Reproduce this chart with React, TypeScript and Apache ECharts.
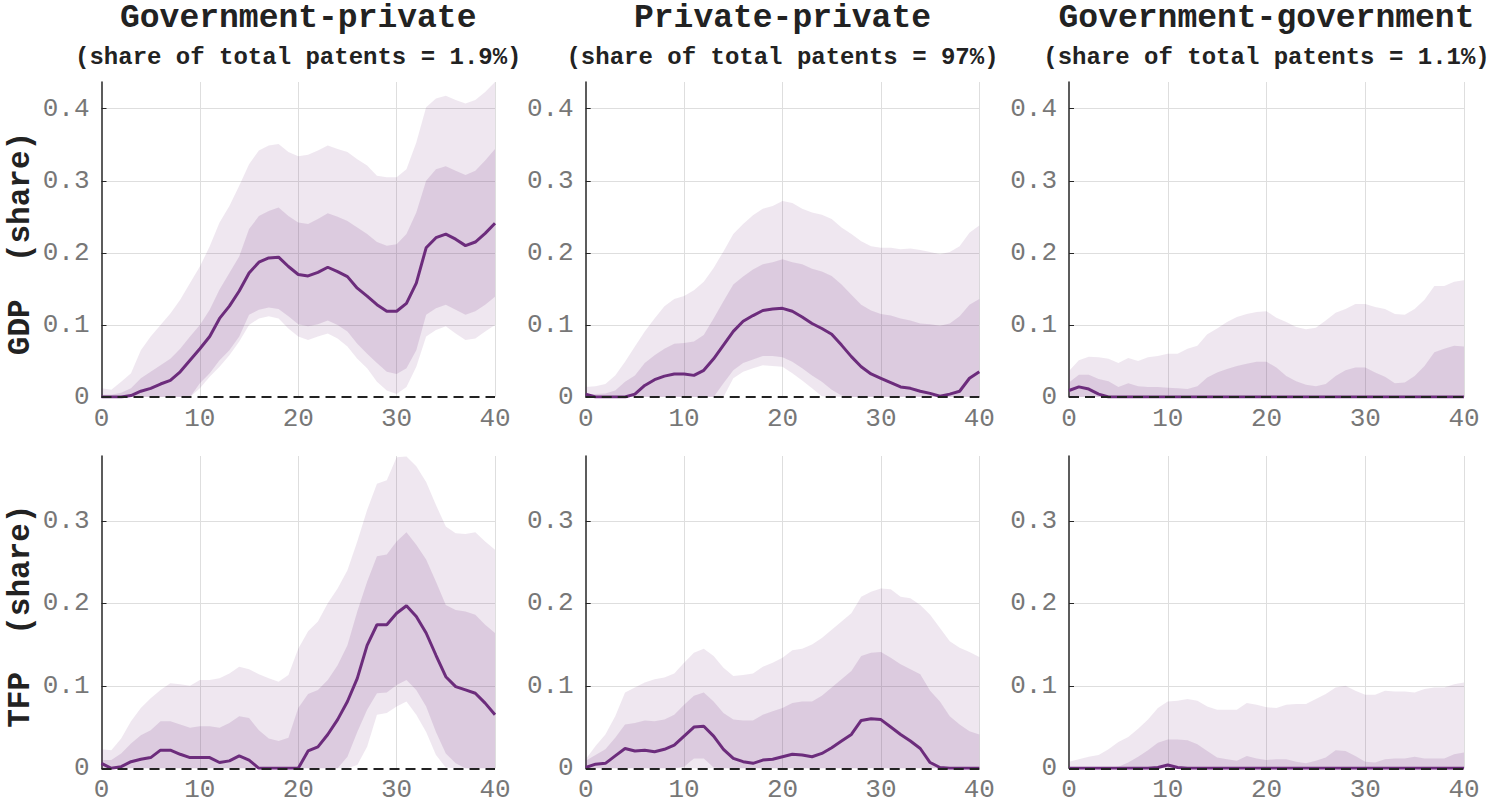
import React, { useEffect, useRef } from "react";
import * as echarts from "echarts";

// horizon (0..40)
const horizons = Array.from({ length: 41 }, (_, i) => String(i));

const colTitles = ["Government-private", "Private-private", "Government-government"];
const colSubtitles = [
  "(share of total patents = 1.9%)",
  "(share of total patents = 97%)",
  "(share of total patents = 1.1%)",
];
const rowLabels = ["GDP  (share)", "TFP  (share)"];
const yTickStep = 0.1;
const xTickEvery = 10;

// ---- GDP, Government-private
const gpGdpMed = [0,0,0,0.002,0.008,0.012,0.018,0.023,0.035,0.051,0.067,0.084,0.109,0.126,0.147,0.172,0.187,0.193,0.194,0.181,0.170,0.168,0.173,0.180,0.174,0.167,0.151,0.140,0.128,0.119,0.119,0.130,0.158,0.207,0.221,0.226,0.219,0.210,0.215,0.227,0.241];
const gpGdpInHi = [0.003,0.003,0.006,0.012,0.026,0.035,0.044,0.053,0.067,0.084,0.100,0.121,0.149,0.172,0.195,0.233,0.251,0.258,0.263,0.251,0.242,0.240,0.247,0.255,0.250,0.244,0.235,0.226,0.215,0.210,0.212,0.226,0.256,0.300,0.316,0.320,0.314,0.308,0.314,0.328,0.344];
const gpGdpInLo = [0,0,0,0,0,0,0,0,0,0,0.019,0.033,0.051,0.065,0.084,0.114,0.121,0.124,0.122,0.112,0.101,0.098,0.101,0.106,0.100,0.091,0.074,0.060,0.047,0.035,0.032,0.040,0.065,0.114,0.123,0.128,0.121,0.114,0.119,0.128,0.139];
const gpGdpOutHi = [0.012,0.010,0.021,0.033,0.065,0.084,0.100,0.116,0.135,0.158,0.181,0.209,0.242,0.265,0.293,0.323,0.342,0.349,0.351,0.340,0.334,0.336,0.342,0.349,0.344,0.340,0.330,0.321,0.307,0.305,0.305,0.316,0.353,0.402,0.414,0.418,0.412,0.407,0.412,0.423,0.437];
const gpGdpOutLo = [0,0,0,0,0,0,0,0,0,0,0.012,0.028,0.042,0.058,0.077,0.100,0.109,0.112,0.109,0.095,0.084,0.079,0.084,0.088,0.081,0.070,0.053,0.040,0.021,0.009,0.004,0.014,0.042,0.084,0.093,0.098,0.088,0.079,0.081,0.091,0.100];

// ---- GDP, Private-private
const ppGdpMed = [0.004,0,0,0,0,0.004,0.016,0.024,0.029,0.032,0.032,0.030,0.037,0.053,0.072,0.091,0.105,0.113,0.120,0.122,0.123,0.119,0.111,0.102,0.095,0.087,0.072,0.056,0.042,0.032,0.026,0.020,0.014,0.012,0.008,0.005,0.001,0.004,0.008,0.026,0.035];
const ppGdpInHi = [0.004,0.004,0.005,0.009,0.021,0.030,0.047,0.058,0.067,0.074,0.075,0.077,0.086,0.109,0.133,0.156,0.167,0.177,0.184,0.187,0.191,0.187,0.184,0.178,0.174,0.168,0.156,0.142,0.128,0.120,0.115,0.113,0.109,0.106,0.102,0.101,0.099,0.102,0.112,0.128,0.136];
const ppGdpInLo = [0,0,0,0,0,0,0,0,0,0,0,0,0,0,0.019,0.037,0.047,0.052,0.057,0.057,0.055,0.049,0.040,0.030,0.021,0.010,0.002,0,0,0,0,0,0,0,0,0,0,0,0,0,0];
const ppGdpOutHi = [0.014,0.015,0.018,0.030,0.049,0.070,0.091,0.109,0.126,0.136,0.140,0.148,0.160,0.179,0.202,0.226,0.240,0.252,0.261,0.265,0.272,0.269,0.261,0.256,0.253,0.247,0.235,0.226,0.216,0.209,0.207,0.207,0.205,0.206,0.204,0.201,0.198,0.201,0.209,0.228,0.238];
const ppGdpOutLo = [0,0,0,0,0,0,0,0,0,0,0,0,0,0,0,0.026,0.035,0.040,0.044,0.043,0.042,0.033,0.023,0.012,0.001,0,0,0,0,0,0,0,0,0,0,0,0,0,0,0,0];

// ---- GDP, Government-government
const ggGdpMed = [0.009,0.014,0.011,0.004,0,0,0,0,0,0,0,0,0,0,0,0,0,0,0,0,0,0,0,0,0,0,0,0,0,0,0,0,0,0,0,0,0,0,0,0,0];
const ggGdpInHi = [0.020,0.031,0.031,0.025,0.022,0.014,0.019,0.015,0.014,0.014,0.013,0.012,0.011,0.015,0.027,0.034,0.039,0.043,0.046,0.049,0.049,0.041,0.029,0.022,0.017,0.015,0.018,0.029,0.037,0.041,0.041,0.034,0.028,0.019,0.020,0.029,0.043,0.062,0.067,0.071,0.070];
const ggGdpInLo = [0,0,0,0,0,0,0,0,0,0,0,0,0,0,0,0,0,0,0,0,0,0,0,0,0,0,0,0,0,0,0,0,0,0,0,0,0,0,0,0,0];
const ggGdpOutHi = [0.036,0.051,0.056,0.055,0.053,0.047,0.054,0.050,0.055,0.057,0.060,0.060,0.067,0.071,0.087,0.095,0.104,0.111,0.115,0.118,0.119,0.110,0.104,0.097,0.094,0.096,0.106,0.117,0.122,0.129,0.129,0.125,0.122,0.115,0.114,0.122,0.135,0.154,0.154,0.160,0.162];
const ggGdpOutLo = [0,0,0,0,0,0,0,0,0,0,0,0,0,0,0,0,0,0,0,0,0,0,0,0,0,0,0,0,0,0,0,0,0,0,0,0,0,0,0,0,0];

// ---- TFP, Government-private
const gpTfpMed = [0.006,0,0.002,0.008,0.011,0.013,0.022,0.022,0.017,0.013,0.013,0.013,0.007,0.009,0.015,0.010,0,0,0,0,0,0.021,0.026,0.041,0.059,0.081,0.109,0.149,0.174,0.174,0.188,0.197,0.184,0.164,0.137,0.111,0.099,0.095,0.091,0.079,0.065];
const gpTfpInHi = [0.010,0.010,0.018,0.030,0.040,0.046,0.057,0.057,0.053,0.049,0.051,0.051,0.049,0.055,0.063,0.061,0.046,0.036,0.033,0.037,0.073,0.090,0.095,0.107,0.125,0.149,0.190,0.226,0.257,0.259,0.275,0.286,0.271,0.253,0.226,0.198,0.192,0.190,0.186,0.174,0.164];
const gpTfpInLo = [0,0,0,0,0,0,0,0,0,0,0,0,0,0,0,0,0,0,0,0,0,0,0,0,0,0.014,0.044,0.071,0.091,0.092,0.101,0.107,0.095,0.075,0.044,0.018,0.006,0,0,0,0];
const gpTfpOutHi = [0.023,0.022,0.036,0.057,0.073,0.085,0.095,0.103,0.102,0.100,0.107,0.107,0.109,0.115,0.123,0.120,0.114,0.109,0.105,0.113,0.145,0.166,0.178,0.200,0.218,0.240,0.275,0.313,0.345,0.349,0.377,0.378,0.366,0.347,0.319,0.293,0.285,0.284,0.286,0.275,0.265];
const gpTfpOutLo = [0,0,0,0,0,0,0,0,0,0,0,0,0,0,0,0,0,0,0,0,0,0,0,0,0,0,0.004,0.026,0.065,0.067,0.075,0.081,0.065,0.044,0.016,0.001,0,0,0,0,0];

// ---- TFP, Private-private
const ppTfpMed = [0.001,0.005,0.006,0.015,0.024,0.021,0.022,0.020,0.023,0.028,0.039,0.050,0.051,0.039,0.023,0.012,0.008,0.006,0.010,0.011,0.014,0.017,0.016,0.014,0.018,0.025,0.033,0.041,0.058,0.060,0.059,0.050,0.041,0.033,0.024,0.007,0.001,0,0,0,0];
const ppTfpInHi = [0.009,0.016,0.023,0.037,0.053,0.055,0.058,0.057,0.059,0.065,0.077,0.088,0.092,0.081,0.067,0.059,0.058,0.058,0.065,0.069,0.073,0.079,0.081,0.081,0.088,0.098,0.108,0.118,0.136,0.140,0.141,0.134,0.126,0.120,0.114,0.094,0.081,0.063,0.053,0.045,0.041];
const ppTfpInLo = [0,0,0,0,0,0,0,0,0,0,0.002,0.012,0.012,0.001,0,0,0,0,0,0,0,0,0,0,0,0,0,0,0,0,0,0,0,0,0,0,0,0,0,0,0];
const ppTfpOutHi = [0.011,0.027,0.041,0.063,0.092,0.098,0.104,0.108,0.110,0.115,0.128,0.140,0.145,0.136,0.122,0.112,0.113,0.115,0.123,0.128,0.134,0.143,0.145,0.150,0.158,0.168,0.178,0.188,0.208,0.214,0.218,0.217,0.208,0.206,0.198,0.186,0.170,0.154,0.146,0.141,0.135];
const ppTfpOutLo = [0,0,0,0,0,0,0,0,0,0,0,0,0,0,0,0,0,0,0,0,0,0,0,0,0,0,0,0,0,0,0,0,0,0,0,0,0,0,0,0,0];

// ---- TFP, Government-government
const ggTfpMed = [0,0,0,0,0,0,0,0,0,0.001,0.004,0.001,0,0,0,0,0,0,0,0,0,0,0,0,0,0,0,0,0,0,0,0,0,0,0,0,0,0,0,0,0];
const ggTfpInHi = [0.001,0.001,0.001,0.001,0.001,0.002,0.007,0.014,0.022,0.031,0.035,0.035,0.034,0.029,0.021,0.013,0.011,0.009,0.015,0.012,0.010,0.011,0.011,0.008,0.006,0.009,0.013,0.022,0.021,0.015,0.008,0.007,0.011,0.012,0.012,0.014,0.012,0.012,0.012,0.017,0.019];
const ggTfpInLo = [0,0,0,0,0,0,0,0,0,0,0,0,0,0,0,0,0,0,0,0,0,0,0,0,0,0,0,0,0,0,0,0,0,0,0,0,0,0,0,0,0];
const ggTfpOutHi = [0.008,0.011,0.014,0.016,0.023,0.032,0.038,0.048,0.059,0.073,0.081,0.082,0.084,0.082,0.075,0.071,0.071,0.071,0.079,0.077,0.074,0.073,0.077,0.078,0.078,0.084,0.090,0.098,0.100,0.094,0.089,0.089,0.094,0.093,0.093,0.092,0.096,0.098,0.098,0.102,0.104];
const ggTfpOutLo = [0,0,0,0,0,0,0,0,0,0,0,0,0,0,0,0,0,0,0,0,0,0,0,0,0,0,0,0,0,0,0,0,0,0,0,0,0,0,0,0,0];

const panels = [
  { med: gpGdpMed, inHi: gpGdpInHi, inLo: gpGdpInLo, outHi: gpGdpOutHi, outLo: gpGdpOutLo },
  { med: ppGdpMed, inHi: ppGdpInHi, inLo: ppGdpInLo, outHi: ppGdpOutHi, outLo: ppGdpOutLo },
  { med: ggGdpMed, inHi: ggGdpInHi, inLo: ggGdpInLo, outHi: ggGdpOutHi, outLo: ggGdpOutLo },
  { med: gpTfpMed, inHi: gpTfpInHi, inLo: gpTfpInLo, outHi: gpTfpOutHi, outLo: gpTfpOutLo },
  { med: ppTfpMed, inHi: ppTfpInHi, inLo: ppTfpInLo, outHi: ppTfpOutHi, outLo: ppTfpOutLo },
  { med: ggTfpMed, inHi: ggTfpInHi, inLo: ggTfpInLo, outHi: ggTfpOutHi, outLo: ggTfpOutLo },
];

// layout
const colLeft = [101.5, 585.7, 1069];
const colWidth = [393.5, 393.6, 395];
const rowTop = [82, 456];
const rowHeight = [315, 312.3];
const rowYMax = [0.437, 0.3785];

const OUTER = "rgba(112,44,126,0.115)";
const INNER = "rgba(112,44,126,0.15)";
const LINE = "#6C2C7C";
const FONT = "Liberation Mono";

function buildOption() {
  const grid: any[] = [];
  const xAxis: any[] = [];
  const yAxis: any[] = [];
  const series: any[] = [];
  const graphic: any[] = [];
  const tickShown = (idx: number) => idx % xTickEvery === 0;

  panels.forEach((p, i) => {
    const r = Math.floor(i / 3);
    const c = i % 3;
    grid.push({ left: colLeft[c], top: rowTop[r], width: colWidth[c], height: rowHeight[r], containLabel: false });
    xAxis.push({
      type: "category", gridIndex: i, data: horizons, boundaryGap: false,
      axisLine: { show: false }, axisTick: { show: false },
      axisLabel: { interval: tickShown, fontFamily: FONT, fontSize: 26, color: "#777", margin: 9 },
      splitLine: { show: true, interval: (idx: number) => idx > 0 && tickShown(idx), lineStyle: { color: "#dedede", width: 1 } },
    });
    yAxis.push({
      type: "value", gridIndex: i, min: 0, max: rowYMax[r], interval: yTickStep,
      axisLine: { show: true, lineStyle: { color: "#262626", width: 1.5 } },
      axisTick: { show: true, inside: true, length: 5, lineStyle: { color: "#262626" } },
      axisLabel: {
        fontFamily: FONT, fontSize: 26, color: "#777", margin: 12, showMaxLabel: false,
        formatter: (v: number) => (v === 0 ? "0" : v.toFixed(1)),
      },
      splitLine: { show: true, showMinLine: false, showMaxLine: false, lineStyle: { color: "#dedede", width: 1 } },
    });
    const diff = (a: number[], b: number[]) => a.map((v, k) => Math.max(0, v - b[k]));
    const base = { type: "line", xAxisIndex: i, yAxisIndex: i, symbol: "none", silent: true, smooth: false };
    series.push({ ...base, name: `outLo${i}`, stack: `o${i}`, data: p.outLo, lineStyle: { opacity: 0 } });
    series.push({ ...base, name: `outBand${i}`, stack: `o${i}`, data: diff(p.outHi, p.outLo), lineStyle: { opacity: 0 }, areaStyle: { color: OUTER, opacity: 1 } });
    series.push({ ...base, name: `inLo${i}`, stack: `i${i}`, data: p.inLo, lineStyle: { opacity: 0 } });
    series.push({ ...base, name: `inBand${i}`, stack: `i${i}`, data: diff(p.inHi, p.inLo), lineStyle: { opacity: 0 }, areaStyle: { color: INNER, opacity: 1 } });
    series.push({
      ...base, name: `med${i}`, data: p.med, lineStyle: { color: LINE, width: 3 },
      markLine: {
        silent: true, symbol: "none", label: { show: false },
        lineStyle: { color: "#222", type: [10, 6], width: 2 },
        data: [{ yAxis: 0 }],
      },
    });
  });

  colTitles.forEach((t, c) => {
    const cx = colLeft[c] + colWidth[c] / 2;
    graphic.push({ type: "text", x: cx, y: 18, style: { text: t, fontFamily: FONT, fontWeight: "bold", fontSize: 33, fill: "#222", align: "center", verticalAlign: "middle" } });
    graphic.push({ type: "text", x: cx, y: 57, style: { text: colSubtitles[c], fontFamily: FONT, fontWeight: "bold", fontSize: 24, fill: "#222", align: "center", verticalAlign: "middle" } });
  });
  rowLabels.forEach((t, r) => {
    graphic.push({
      type: "text", x: 20, y: rowTop[r] + rowHeight[r] / 2 + 4, rotation: Math.PI / 2,
      style: { text: t, fontFamily: FONT, fontWeight: "bold", fontSize: 31, fill: "#222", align: "center", verticalAlign: "middle" },
    });
  });

  return { animation: false, backgroundColor: "#fff", grid, xAxis, yAxis, series, graphic };
}

export default function App() {
  const ref = useRef<HTMLDivElement>(null);
  useEffect(() => {
    if (!ref.current) return;
    const chart = echarts.init(ref.current, undefined, { renderer: "svg" });
    chart.setOption(buildOption() as any);
    return () => chart.dispose();
  }, []);
  return <div ref={ref} style={{ position: "fixed", left: 0, top: 0, width: 1492, height: 808, background: "#fff" }} />;
}
